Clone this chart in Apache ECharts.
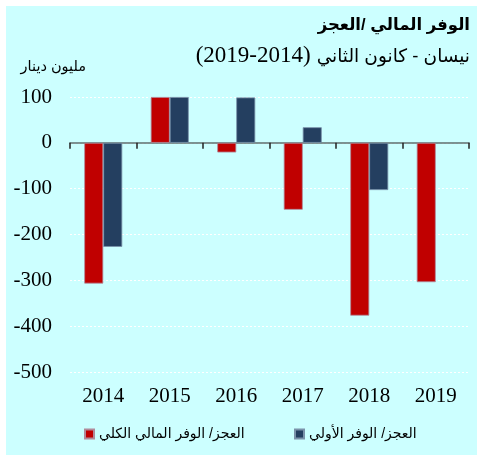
<!DOCTYPE html>
<html>
<head>
<meta charset="utf-8">
<script src="https://cdn.jsdelivr.net/npm/echarts@6/dist/echarts.min.js"></script>
<style>
html,body{margin:0;padding:0;background:#ffffff;}
#chart{width:479px;height:457px;}
</style>
</head>
<body>
<div id="chart"></div>
<script>
// ---- data ----
var years = ['2014', '2015', '2016', '2017', '2018', '2019'];
var overallBalance = [-307, 100, -21, -146, -377, -304];
var primaryBalance = [-227, 100, 99, 34, -103, null];
var overallName = 'العجز/ الوفر المالي الكلي';
var primaryName = 'العجز/ الوفر الأولي';
var titleText = 'الوفر المالي /العجز';
var subtitleArabic = 'نيسان - كانون الثاني';
var subtitleYears = '(2019-2014)';
var unitText = 'مليون دينار';

var serif = '"Liberation Serif", "Times New Roman", serif';
var sans = '"Liberation Sans", Arial, "DejaVu Sans", sans-serif';

var subArFont = '18.5px ' + sans;
var subNumFont = '23px ' + serif;
var mctx = document.createElement('canvas').getContext('2d');
mctx.font = subArFont;
var arWidth = mctx.measureText(subtitleArabic).width;

var chart = echarts.init(document.getElementById('chart'));
chart.setOption({
  backgroundColor: '#ffffff',
  animation: false,
  graphic: [
    { type: 'rect', z: -100, silent: true, shape: { x: 6, y: 6, width: 471, height: 449 }, style: { fill: '#ccffff' } },
    { type: 'text', x: 470, y: 25, style: { text: titleText, align: 'right', verticalAlign: 'middle', font: 'bold 16.5px ' + sans, fill: '#000' } },
    { type: 'text', x: 470, y: 57, style: { text: subtitleArabic, align: 'right', verticalAlign: 'middle', font: subArFont, fill: '#000' } },
    { type: 'text', x: 470 - arWidth - 6, y: 56, style: { text: subtitleYears, align: 'right', verticalAlign: 'middle', font: subNumFont, fill: '#000' } },
    { type: 'text', x: 86, y: 67, style: { text: unitText, align: 'right', verticalAlign: 'middle', font: '14.5px ' + sans, fill: '#000' } }
  ],
  grid: { left: 70, right: 10, top: 97, bottom: 85, containLabel: false },
  legend: [
    { data: [overallName], left: 79, top: 422, itemWidth: 9, itemHeight: 9, itemGap: 4,
      icon: 'rect',
      textStyle: { fontFamily: sans, fontSize: 14, color: '#000' } },
    { data: [primaryName], left: 289, top: 422, itemWidth: 9, itemHeight: 9, itemGap: 4,
      icon: 'rect',
      textStyle: { fontFamily: sans, fontSize: 14, color: '#000' } }
  ],
  xAxis: [
    { type: 'category', data: years, position: 'bottom',
      axisLine: { show: false, onZero: false }, axisTick: { show: false },
      axisLabel: { margin: 14, fontFamily: serif, fontSize: 21, color: '#000' },
      splitLine: { show: false } },
    { type: 'category', data: years, position: 'bottom',
      axisLine: { show: true, onZero: true, lineStyle: { color: '#5f6f6f', width: 1.5 } },
      axisTick: { show: true, length: 6, lineStyle: { color: '#222', width: 1.5 } },
      axisLabel: { show: false }, splitLine: { show: false } }
  ],
  yAxis: {
    type: 'value', min: -500, max: 100, interval: 100,
    axisLine: { show: false }, axisTick: { show: false },
    axisLabel: { margin: 18, fontFamily: serif, fontSize: 21, color: '#000' },
    splitLine: { show: true, lineStyle: { color: '#ffffff', type: [2, 2], width: 1 } }
  },
  series: [
    { name: overallName, type: 'bar', xAxisIndex: 0, data: overallBalance, barWidth: 19, barGap: '0%',
      itemStyle: { color: '#c00000', borderColor: '#b08a9a', borderWidth: 0.8 } },
    { name: primaryName, type: 'bar', xAxisIndex: 0, data: primaryBalance, barWidth: 19, barGap: '0%',
      itemStyle: { color: '#243f60', borderColor: '#7a92aa', borderWidth: 0.8 } }
  ]
});
</script>
</body>
</html>
